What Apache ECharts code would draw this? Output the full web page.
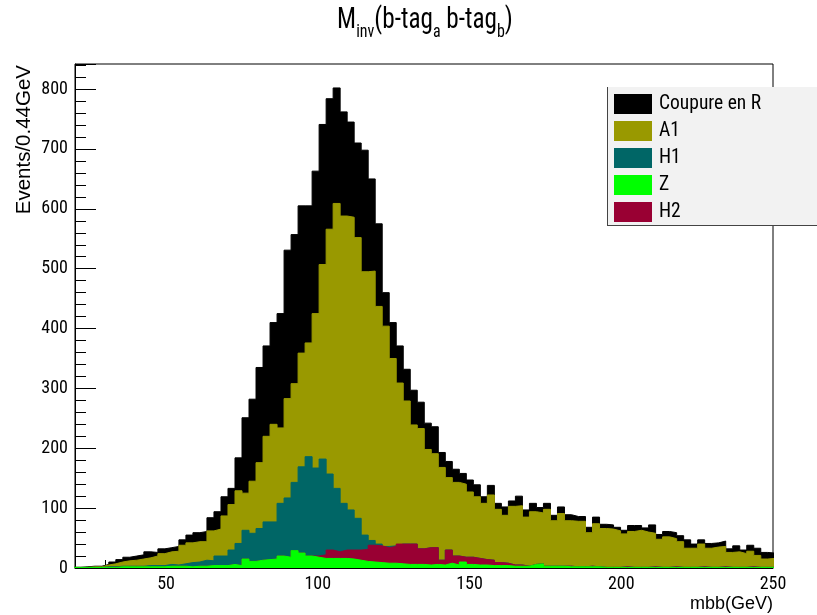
<!DOCTYPE html>
<html>
<head>
<meta charset="utf-8">
<title>Minv(b-tag a b-tag b)</title>
<script src="https://cdn.jsdelivr.net/npm/echarts@6/dist/echarts.min.js"></script>
<style>
  html, body { margin: 0; padding: 0; background: #ffffff; }
  #chart { width: 817px; height: 615px; }
</style>
</head>
<body>
<div id="chart"></div>
<script>
// Histogram binning (GeV): 100 bins starting just below the axis minimum
const binStart = 19.59;
const binWidth = 2.31;

// Stack components, bottom to top, events per bin
const zVals = [
  1,1,1,1,1,1,2,2,2,2, 2,2,2,3,3,3,2,3,3,4,
  4,4,6,4,15,11,13,14,15,20, 18,29,25,20,18,16,16,16,16,15,
  13,11,10,9,8,8,7,6,6,6, 5,6,5,8,5,10,6,5,5,4,
  4,4,3,3,3,6,7,3,3,3, 2,2,2,2,2,1,1,1,1,1,
  1,1,1,1,1,1,1,1,1,1, 1,1,1,1,1,1,1,1,1,1
];
const h2Vals = [
  0,0,0,0,0,0,0,0,0,0, 0,0,0,0,0,0,0,0,0,0,
  0,0,0,0,0,0,0,0,0,0, 0,0,0,0,2,6,14,11,14,15,
  17,20,28,28,26,28,33,34,34,26, 29,28,8,22,15,8,12,11,9,9,
  5,4,2,2,0,0,0,0,0,0, 1,0,0,1,0,0,0,0,1,0,
  0,0,1,0,0,1,0,0,0,1, 0,0,1,0,0,0,1,0,0,0
];
const h1Vals = [
  0,0,0,0,1,1,1,1,1,1, 2,2,2,3,2,4,7,7,10,8,
  16,16,24,37,48,47,53,63,62,88, 99,114,144,166,147,160,127,106,78,67,
  53,24,8,3,2,1,0,0,0,0, 0,0,0,0,0,0,0,0,0,0,
  0,0,0,0,0,0,0,0,0,0, 0,0,0,0,0,0,0,0,0,0,
  0,0,0,0,0,0,0,0,0,0, 0,0,0,0,0,0,0,0,0,0
];
const a1Vals = [
  0,0,1,1,3,5,7,9,10,12, 13,16,20,21,23,31,33,34,31,50,
  45,67,76,88,62,87,110,143,163,126, 166,165,190,190,258,325,409,476,480,489,
  469,440,450,397,368,313,269,239,199,201, 164,157,155,121,123,122,109,103,94,109,
  89,80,98,99,82,88,85,95,76,88, 76,76,76,56,72,65,64,61,55,60,
  62,59,56,47,51,47,43,32,32,38, 32,34,34,25,26,23,26,20,14,15
];
const cutVals = [
  0,1,1,1,1,3,4,6,7,7, 10,6,8,7,8,9,13,15,17,22,
  29,32,27,55,126,137,159,151,170,191, 248,249,246,229,238,234,218,193,174,159,
  158,203,154,138,56,60,62,53,58,44, 44,45,25,27,22,18,20,20,11,16,
  10,14,9,16,12,14,9,10,9,11, 10,8,8,9,11,7,7,6,6,10,
  8,7,14,8,9,10,10,14,7,7, 8,7,9,6,10,6,10,12,11,9
];

const xTickValues = [50, 100, 150, 200, 250];

const condensed = "'Roboto Condensed', 'DejaVu Sans Condensed', 'Liberation Sans', sans-serif";
const regular = "'Liberation Sans', Arial, sans-serif";

// Components in stacking order (bottom first)
const components = [
  { name: 'Z', vals: zVals, color: '#00ff00' },
  { name: 'H2', vals: h2Vals, color: '#990033' },
  { name: 'H1', vals: h1Vals, color: '#006666' },
  { name: 'A1', vals: a1Vals, color: '#999900' },
  { name: 'Coupure en R', vals: cutVals, color: '#000000' }
];

// Running sum: each layer's upper edge is the sum of itself and everything below
let running = new Array(zVals.length).fill(0);
components.forEach(c => {
  running = running.map((s, i) => s + c.vals[i]);
  c.top = running.slice();
});

// Step outline of one histogram: left edge of every bin, then the closing edge
function histPoints(vals) {
  const pts = vals.map((v, i) => [binStart + i * binWidth, v]);
  pts.push([binStart + vals.length * binWidth, vals[vals.length - 1]]);
  return pts;
}

// Upper layers are filled first so lower layers paint over them
const series = components.slice().reverse().map((c, k) => ({
  name: c.name,
  type: 'line',
  step: 'end',
  data: histPoints(c.top),
  symbol: 'none',
  showSymbol: false,
  clip: true,
  z: 2 + k * 0.01,
  itemStyle: { color: c.color },
  lineStyle: { color: c.color, width: 1 },
  areaStyle: { color: c.color, opacity: 1, origin: 'start' },
  emphasis: { disabled: true },
  animation: false
}));

const chart = echarts.init(document.getElementById('chart'), null, { renderer: 'canvas' });

chart.setOption({
  animation: false,
  backgroundColor: '#ffffff',
  grid: {
    left: 75, right: 44, top: 64, bottom: 47,
    show: true, borderColor: '#000', borderWidth: 1, backgroundColor: 'transparent',
    containLabel: false
  },
  legend: {
    orient: 'vertical',
    left: 608, top: 87,
    padding: [7, 60, 4, 6],
    itemWidth: 38, itemHeight: 20, itemGap: 7,
    icon: 'rect',
    backgroundColor: '#f2f2f2',
    borderWidth: 0,
    selectedMode: false,
    itemStyle: { borderWidth: 0 },
    textStyle: { fontFamily: condensed, fontSize: 19.5, color: '#000', padding: [0, 0, 0, 2] },
    data: ['Coupure en R', 'A1', 'H1', 'Z', 'H2']
  },
  xAxis: [
    {
      type: 'value', min: 20, max: 250,
      axisLine: { show: true, lineStyle: { color: '#000', width: 1 } },
      axisTick: { show: true, inside: true, length: 15, customValues: xTickValues, lineStyle: { color: '#000' } },
      axisLabel: { customValues: xTickValues, fontFamily: condensed, fontSize: 18, color: '#000', margin: 7 },
      splitLine: { show: false }
    },
    {
      type: 'value', min: 20, max: 250, interval: 10, position: 'bottom',
      axisLine: { show: false },
      axisTick: { show: true, inside: true, length: 8, lineStyle: { color: '#000' } },
      axisLabel: { show: false },
      splitLine: { show: false }
    }
  ],
  yAxis: {
    type: 'value', min: 0, max: 842, interval: 100,
    axisLine: { show: true, lineStyle: { color: '#000', width: 1 } },
    axisTick: { show: true, inside: true, length: 21, lineStyle: { color: '#000' } },
    minorTick: { show: true, splitNumber: 5, length: 11, lineStyle: { color: '#000' } },
    axisLabel: { fontFamily: condensed, fontSize: 18, color: '#000', margin: 7, showMaxLabel: false },
    splitLine: { show: false }
  },
  graphic: [
    {
      // Title with subscripts, slightly condensed
      type: 'text', x: 425, y: 5, scaleX: 0.84,
      style: {
        text: '{m|M}{s|inv}{m|(b-tag}{s|a}{m| b-tag}{s|b}{m|)}',
        align: 'center', verticalAlign: 'top',
        rich: {
          m: { fontFamily: condensed, fontSize: 30, lineHeight: 30, verticalAlign: 'top', fill: '#000' },
          s: { fontFamily: condensed, fontSize: 19, lineHeight: 20, padding: [18, 0, 0, 0], verticalAlign: 'top', fill: '#000' }
        }
      },
      z: 10
    },
    {
      type: 'text', x: 35, y: 65, rotation: Math.PI / 2,
      style: { text: 'Events/0.44GeV', fontFamily: regular, fontSize: 20.5, fill: '#000', align: 'right', verticalAlign: 'bottom' },
      z: 10
    },
    {
      type: 'text', x: 773, y: 613,
      style: { text: 'mbb(GeV)', fontFamily: regular, fontSize: 18, fill: '#000', align: 'right', verticalAlign: 'bottom' },
      z: 10
    },
    {
      type: 'line', shape: { x1: 607.5, y1: 87, x2: 607.5, y2: 226 },
      style: { stroke: '#444', lineWidth: 1 }, z: 10
    },
    {
      type: 'line', shape: { x1: 607, y1: 225.5, x2: 817, y2: 225.5 },
      style: { stroke: '#444', lineWidth: 1 }, z: 10
    }
  ],
  series: series
});
</script>
</body>
</html>
